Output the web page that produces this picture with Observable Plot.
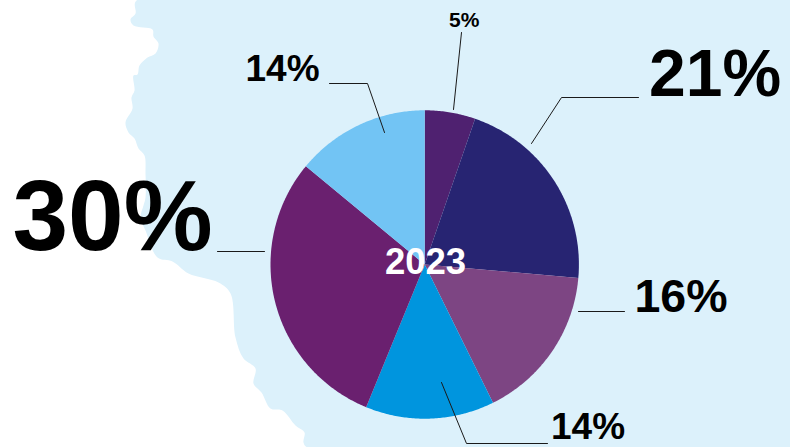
<!DOCTYPE html>
<html><head><meta charset="utf-8">
<script src="https://cdn.jsdelivr.net/npm/d3@7"></script>
<script src="https://cdn.jsdelivr.net/npm/@observablehq/plot@0.6"></script>
<style>html,body{margin:0;padding:0;background:#fff}svg{display:block}</style>
</head><body><div id="chart"></div>
<script>
const year = "2023";
const shares = [5.3, 21.1, 16.3, 13.5, 29.8, 14];
const shareLabels = ["5%", "21%", "16%", "14%", "30%", "14%"];
const sliceColors = ["#4f2170", "#272472", "#7d4583", "#0095de", "#6a206f", "#72c4f4"];
const coastX = [136,135,130,133,152,153,158,155,147,139,137,133,134,131,132,125,128,134,138,144,145,145,143,140,145,157,172,188,218,230,235,243,255,253,261,270,282,295,304,303,307,790,790];
const coastY = [0,13,19,25,29,36,43,53,57,65,74,75,90,97,108,122,132,138,148,155,173,197,205,217,230,257,261,273,282,293,337,358,368,383,392,408,410,425,432,442,447,447,0];
const leaderX = [[217,264],[329,367,384],[461,453],[638,561,531],[578,624],[441,466,547]];
const leaderY = [[251,251],[83,83,132],[32,109],[97,97,143],[311,311],[382,443,443]];
const labelX = [448.5,648.5,634,550.5,12,245];
const labelY = [20,74,297,427,217,69];
const labelSize = [21,66,46.5,37,100,37];

const cx = 424.2, cy = 264, r = 154.2;
const total = d3.sum(shares);
const slices = [];
let acc = 0;
shares.forEach((s, i) => {
  const a0 = acc / total * 2 * Math.PI;
  acc += s;
  const a1 = acc / total * 2 * Math.PI;
  slices.push({i, x: cx, y: cy});
  const n = Math.ceil((a1 - a0) / 0.01);
  for (let k = 0; k <= n; k++) {
    const a = a0 + (a1 - a0) * k / n;
    slices.push({i, x: cx + r * Math.sin(a), y: cy - r * Math.cos(a)});
  }
});
const coast = coastX.map((x, i) => ({x, y: coastY[i]}));
const leaders = leaderX.flatMap((xs, i) => xs.map((x, k) => ({i, x, y: leaderY[i][k]})));
const labels = shareLabels.map((t, i) => ({t, x: labelX[i], y: labelY[i], s: labelSize[i]}));
const font = "'Liberation Sans', Arial, sans-serif";

const chart = Plot.plot({
  width: 790, height: 447, margin: 0,
  x: {domain: [0, 790], range: [0, 790], axis: null},
  y: {domain: [0, 447], range: [0, 447], axis: null},
  style: {background: "#fff", fontFamily: font},
  marks: [
    Plot.line(coast, {x: "x", y: "y", fill: "#dcf1fb", stroke: "none", curve: "catmull-rom-closed"}),
    Plot.line(slices, {x: "x", y: "y", z: "i", fill: d => sliceColors[d.i], stroke: "none", curve: "linear-closed"}),
    Plot.line(leaders, {x: "x", y: "y", z: "i", stroke: "#1a1a1a", strokeWidth: 1}),
    Plot.text(labels, {x: "x", y: "y", text: "t", fontSize: "s", textAnchor: "start", lineAnchor: "middle", fontWeight: 700, fill: "#000", letterSpacing: "-0.02em"}),
    Plot.text([year], {x: [425], y: [262], text: d => d, fontSize: 36.5, fontWeight: 700, fill: "#fff", textAnchor: "middle", lineAnchor: "middle"})
  ]
});
document.getElementById("chart").appendChild(chart);
</script></body></html>
